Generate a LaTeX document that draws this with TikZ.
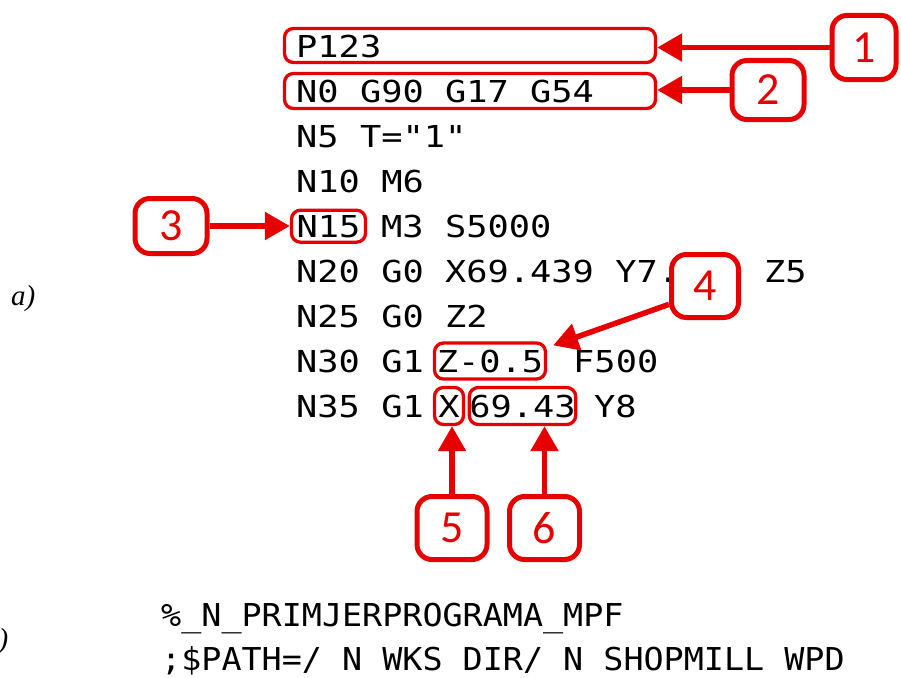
\documentclass[tikz,border=0pt]{standalone}
\usepackage{fontspec}
\setmainfont{Liberation Serif}
\newfontfamily\codefont[FakeStretch=1.17]{DejaVu Sans Mono}
\newfontfamily\pathfont[FakeStretch=1.06]{DejaVu Sans Mono}
\newfontfamily\numfont{Carlito}
\usepackage{xcolor}
\usetikzlibrary{arrows.meta}
\definecolor{callred}{RGB}{230,0,0}

\begin{document}
\begin{tikzpicture}[x=1pt, y=-1pt,
        codeline/.style = {anchor=base west, inner sep=0pt, font=\codefont\fontsize{30.2}{36}\selectfont},
        pathline/.style = {anchor=base west, inner sep=0pt, font=\pathfont\fontsize{31.5}{38}\selectfont},
        hlbox/.style = {draw=callred, line width=3.3pt, rounded corners=9pt, inner sep=0pt, font=\codefont\fontsize{30.2}{36}\selectfont},
        callout/.style = {draw=callred, fill=white, line width=5pt, rounded corners=15pt, inner sep=0pt, text=callred, font=\numfont\fontsize{46}{46}\selectfont},
        pointer/.style = {draw=callred, line width=5.5pt, arrows = {-Triangle[length=25pt, width=27pt]}},
        partlabel/.style = {anchor=base west, inner sep=0pt, font=\itshape\fontsize{29}{32}\selectfont}]
    \useasboundingbox (0,0) rectangle (901,677);

    \node[hlbox, minimum width=371pt, minimum height=34pt] (hlP) at (470,45.5) {};
    \node[hlbox, minimum width=371pt, minimum height=35pt] (hlN0) at (470,91) {};

    \node[codeline] (l1) at (296,57) {P123};
    \node[codeline] (l2) at (296,102) {N0 G90 G17 G54};
    \node[codeline] (l3) at (296,147) {N5 T="1"};
    \node[codeline] (l4) at (296,192) {N10 M6};
    \node[hlbox, minimum width=74pt, minimum height=32pt, anchor=base] (hlN15) at (328.5,237) {N15};
    \node[codeline] (l5) at (381,237) {M3 S5000};
    \node[codeline] (l6) at (296,282) {N20 G0 X69.439 Y7.\phantom{000} Z5};
    \node[codeline] (l7) at (296,327) {N25 G0 Z2};
    \node[codeline] (l8) at (296,372) {N30 G1};
    \node[hlbox, minimum width=111pt, minimum height=36pt, anchor=base] (hlZ) at (490,372) {Z-0.5};
    \node[codeline] (l8b) at (573,372) {F500};
    \node[codeline] (l9) at (296,417) {N35 G1};
    \node[hlbox, minimum width=29pt, minimum height=37pt, anchor=base] (hlX) at (449,417) {X};
    \node[hlbox, minimum width=106pt, minimum height=37pt, anchor=base] (hl69) at (522.5,417) {69.43};
    \node[codeline] (l9b) at (594,417) {Y8};

    \node[callout, minimum width=64pt, minimum height=64pt] (c1) at (864,47.5) {1};
    \node[callout, minimum width=72pt, minimum height=59pt] (c2) at (768,90) {2};
    \node[callout, minimum width=72pt, minimum height=55pt] (c3) at (171,226) {3};
    \node[callout, minimum width=67pt, minimum height=63pt] (c4) at (705,286) {4};
    \node[callout, minimum width=70pt, minimum height=63pt] (c5) at (452,528) {5};
    \node[callout, minimum width=70pt, minimum height=63pt] (c6) at (544.5,528) {6};

    \draw[pointer] (c1.west) -- (c1.west -| hlP.east);
    \draw[pointer] (c2.west) -- (c2.west -| hlN0.east);
    \draw[pointer] (c3.east) -- (c3.east -| hlN15.west);
    \draw[pointer] (c4.207) -- ([xshift=6pt, yshift=-4pt]hlZ.north east);
    \draw[pointer] (c5.north) -- (c5.north |- hlX.south);
    \draw[pointer] (c6.north) -- (c6.north |- hl69.south);

    \node[partlabel] (pa) at (11,305) {a)};
    \node[partlabel] (pb) at (-16,648) {b)};

    \node[pathline] (p1) at (161,626) {\%\_N\_PRIMJERPROGRAMA\_MPF};
    \node[pathline] (p2) at (161,670) {;\$PATH=/ N WKS DIR/ N SHOPMILL WPD};
\end{tikzpicture}
\end{document}
